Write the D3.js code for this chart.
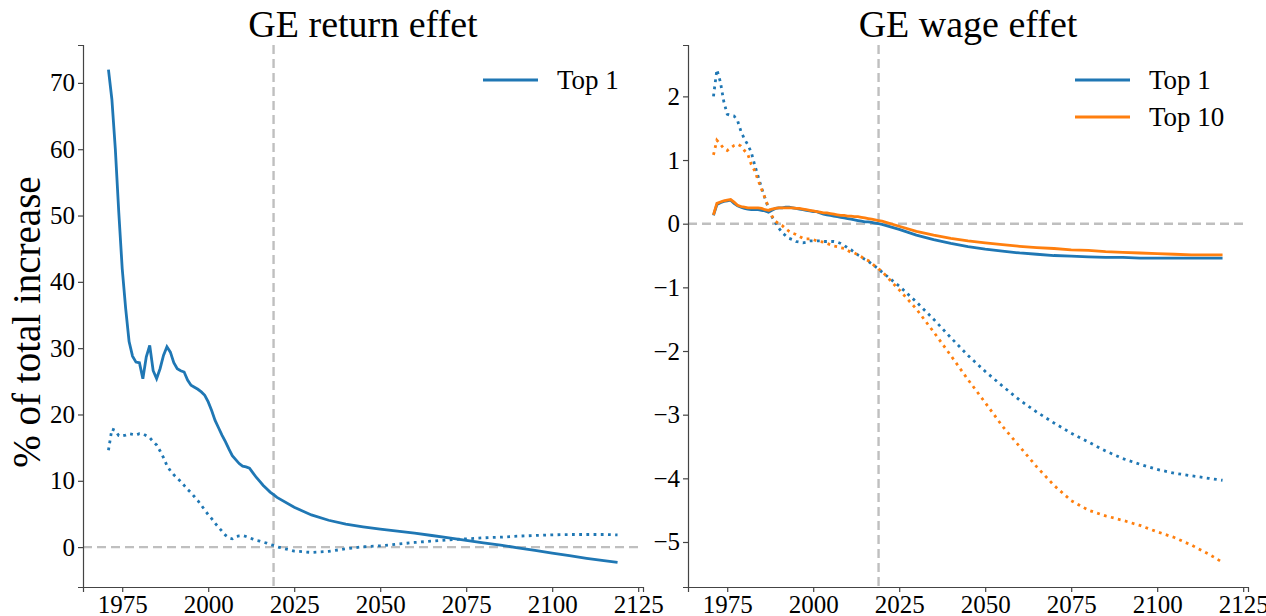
<!DOCTYPE html>
<html>
<head>
<meta charset="utf-8">
<title>GE return / wage effet</title>
<script src="https://d3js.org/d3.v7.min.js"></script>
<style>
  body { margin: 0; background: #fff; }
  svg text { font-family: "Liberation Serif", "Times New Roman", serif; fill: #000; }
</style>
</head>
<body>
<div id="chart"></div>
<script>
// shared years (annual until 2020, then every 5 years)
var years = [1971,1972,1973,1974,1975,1976,1977,1978,1979,1980,
  1981,1982,1983,1984,1985,1986,1987,1988,1989,1990,
  1991,1992,1993,1994,1995,1996,1997,1998,1999,2000,
  2001,2002,2003,2004,2005,2006,2007,2008,2009,2010,
  2011,2012,2013,2014,2015,2016,2017,2018,2019,2020,
  2025,2030,2035,2040,2045,2050,2055,2060,2065,2070,
  2075,2080,2085,2090,2095,2100,2105,2110,2115,2119];

// GE return effet, Top 1 (solid and dotted)
var returnTop1 = [72.0,67.5,60.0,50.5,42.0,36.0,31.0,28.8,27.9,27.8,
  25.4,28.7,30.4,26.6,25.4,26.9,28.9,30.2,29.4,27.8,
  26.9,26.6,26.4,25.2,24.4,24.1,23.8,23.4,22.9,21.9,
  20.6,19.1,18.0,16.9,15.9,14.8,13.8,13.2,12.6,12.2,
  12.1,11.9,11.2,10.5,9.9,9.3,8.8,8.3,7.9,7.5,
  6.0,4.85,4.05,3.45,3.05,2.7,2.4,2.1,1.75,1.4,
  1.0,0.65,0.3,-0.1,-0.5,-0.9,-1.3,-1.7,-2.05,-2.3];
var returnTop1Dot = [14.6,17.8,17.6,16.8,16.8,16.9,17.1,17.0,16.9,17.1,
  17.1,16.8,16.5,15.9,15.4,14.5,13.5,12.3,11.5,10.9,
  10.4,9.9,9.3,8.7,8.2,7.6,7.0,6.3,5.6,4.9,
  4.3,3.6,3.0,2.4,1.8,1.4,1.25,1.6,1.7,1.75,
  1.6,1.4,1.2,1.0,0.9,0.75,0.6,0.4,0.25,0.05,
  -0.6,-0.8,-0.65,-0.25,0.05,0.2,0.45,0.7,0.9,1.1,
  1.25,1.4,1.5,1.65,1.75,1.85,1.9,1.9,1.9,1.85];

// GE wage effet, Top 1 and Top 10 (solid and dotted)
var wageTop1 = [0.13,0.30,0.33,0.35,0.36,0.37,0.32,0.28,0.26,0.24,
  0.23,0.22,0.22,0.22,0.21,0.20,0.18,0.21,0.24,0.25,
  0.25,0.26,0.26,0.25,0.24,0.23,0.22,0.21,0.20,0.19,
  0.19,0.17,0.15,0.14,0.13,0.12,0.11,0.10,0.09,0.08,
  0.07,0.06,0.05,0.04,0.03,0.03,0.02,0.01,0.00,-0.01,
  -0.09,-0.18,-0.25,-0.31,-0.36,-0.40,-0.43,-0.46,-0.48,-0.50,
  -0.51,-0.52,-0.53,-0.53,-0.54,-0.54,-0.54,-0.54,-0.54,-0.54];
var wageTop10 = [0.14,0.32,0.34,0.36,0.37,0.38,0.34,0.29,0.27,0.26,
  0.25,0.25,0.25,0.25,0.24,0.22,0.21,0.23,0.24,0.25,
  0.25,0.25,0.25,0.25,0.24,0.24,0.23,0.22,0.21,0.20,
  0.19,0.18,0.17,0.17,0.16,0.15,0.14,0.13,0.13,0.12,
  0.12,0.11,0.11,0.10,0.09,0.08,0.07,0.06,0.05,0.04,
  -0.04,-0.12,-0.18,-0.23,-0.27,-0.30,-0.33,-0.355,-0.375,-0.39,
  -0.41,-0.42,-0.44,-0.45,-0.46,-0.47,-0.48,-0.49,-0.49,-0.49];
var wageTop1Dot = [2.0,2.42,2.23,1.92,1.72,1.70,1.69,1.62,1.45,1.33,
  1.24,1.12,0.92,0.74,0.56,0.40,0.24,0.11,0.02,-0.07,
  -0.14,-0.19,-0.23,-0.25,-0.28,-0.29,-0.30,-0.29,-0.27,-0.27,
  -0.27,-0.27,-0.28,-0.28,-0.28,-0.28,-0.29,-0.31,-0.34,-0.38,
  -0.41,-0.45,-0.49,-0.52,-0.56,-0.59,-0.63,-0.67,-0.71,-0.76,
  -0.98,-1.23,-1.50,-1.79,-2.07,-2.32,-2.55,-2.77,-2.96,-3.13,
  -3.29,-3.43,-3.57,-3.69,-3.78,-3.86,-3.92,-3.96,-4.00,-4.03];
var wageTop10Dot = [1.08,1.31,1.25,1.18,1.15,1.19,1.23,1.25,1.22,1.15,
  1.09,0.93,0.83,0.68,0.54,0.40,0.26,0.12,0.04,0.00,
  -0.03,-0.08,-0.12,-0.15,-0.17,-0.20,-0.23,-0.24,-0.24,-0.25,
  -0.27,-0.28,-0.29,-0.31,-0.33,-0.35,-0.36,-0.38,-0.39,-0.42,
  -0.45,-0.46,-0.49,-0.52,-0.56,-0.58,-0.62,-0.67,-0.71,-0.75,
  -1.04,-1.34,-1.70,-2.07,-2.45,-2.81,-3.18,-3.50,-3.82,-4.11,
  -4.35,-4.50,-4.59,-4.66,-4.74,-4.84,-4.93,-5.05,-5.19,-5.32];

var xTicks = [1975, 2000, 2025, 2050, 2075, 2100, 2125];
var leftYTicks = [0, 10, 20, 30, 40, 50, 60, 70];
var rightYTicks = [-5, -4, -3, -2, -1, 0, 1, 2];
var vline = 2019;

var blue = "#1f77b4", orange = "#ff7f0e", grey = "#bfbfbf";

var W = 1266, H = 616;
var svg = d3.select("#chart").append("svg")
  .attr("width", W).attr("height", H);

// matplotlib style 5% padding
function padded(ext) {
  var d = (ext[1] - ext[0]) * 0.05;
  return [ext[0] - d, ext[1] + d];
}

function panel(opts) {
  var x = d3.scaleLinear().domain(padded(d3.extent(years))).range([opts.left, opts.right]);
  var allVals = [].concat.apply([], opts.series.map(function(s) { return s.values; }));
  var y = d3.scaleLinear().domain(padded(d3.extent(allVals))).range([587, 45]);

  var g = svg.append("g");

  // reference lines
  g.append("line")
    .attr("x1", opts.left).attr("x2", opts.right)
    .attr("y1", y(0)).attr("y2", y(0))
    .style("stroke", grey).style("stroke-width", 2.4).style("stroke-dasharray", "9,5");
  g.append("line")
    .attr("x1", x(vline)).attr("x2", x(vline))
    .attr("y1", 45).attr("y2", 587)
    .style("stroke", grey).style("stroke-width", 2.4).style("stroke-dasharray", "9,5");

  var line = d3.line()
    .x(function(d, i) { return x(years[i]); })
    .y(function(d) { return y(d); });

  opts.series.forEach(function(s) {
    g.append("path")
      .datum(s.values)
      .attr("d", line)
      .style("fill", "none")
      .style("stroke", s.color)
      .style("stroke-width", 2.8)
      .style("stroke-dasharray", s.dotted ? "2.8,4.4" : null);
  });

  // axes
  var xAxis = g.append("g")
    .attr("transform", "translate(0,587)")
    .call(d3.axisBottom(x).tickValues(xTicks).tickFormat(d3.format("d")).tickSizeOuter(0).tickSize(5));
  var yAxis = g.append("g")
    .attr("transform", "translate(" + opts.left + ",0)")
    .call(d3.axisLeft(y).tickValues(opts.yTicks).tickSizeOuter(0).tickSize(5));

  [xAxis, yAxis].forEach(function(a) {
    a.select(".domain").style("stroke", "#444").style("stroke-width", 1.2);
    a.selectAll(".tick line").style("stroke", "#444").style("stroke-width", 1.2);
    a.selectAll(".tick text")
      .style("font-family", "'Liberation Serif', serif")
      .style("font-size", "25px").style("fill", "#000");
  });
  xAxis.selectAll(".tick text").attr("y", 6).attr("dy", "0.78em");
  yAxis.selectAll(".tick text").attr("x", -8);

  // title
  g.append("text")
    .attr("x", (opts.left + opts.right) / 2)
    .attr("y", 37)
    .attr("text-anchor", "middle")
    .style("font-size", "38px")
    .text(opts.title);

  // legend
  opts.series.filter(function(s) { return s.label; }).forEach(function(s, i) {
    var ly = 80 + i * 37;
    g.append("line")
      .attr("x1", opts.legendX).attr("x2", opts.legendX + 55)
      .attr("y1", ly).attr("y2", ly)
      .style("stroke", s.color).style("stroke-width", 2.8);
    g.append("text")
      .attr("x", opts.legendX + 74)
      .attr("y", ly + 9)
      .style("font-size", "27px")
      .text(s.label);
  });
}

panel({
  left: 83, right: 643,
  title: "GE return effet",
  yTicks: leftYTicks,
  legendX: 483,
  series: [
    {values: returnTop1, color: blue, label: "Top 1"},
    {values: returnTop1Dot, color: blue, dotted: true}
  ]
});

panel({
  left: 688, right: 1248,
  title: "GE wage effet",
  yTicks: rightYTicks,
  legendX: 1075,
  series: [
    {values: wageTop1, color: blue, label: "Top 1"},
    {values: wageTop1Dot, color: blue, dotted: true},
    {values: wageTop10, color: orange, label: "Top 10"},
    {values: wageTop10Dot, color: orange, dotted: true}
  ]
});

// y label
svg.append("text")
  .attr("transform", "translate(40,322) rotate(-90)")
  .attr("text-anchor", "middle")
  .style("font-size", "39px")
  .text("% of total increase");
</script>
</body>
</html>
